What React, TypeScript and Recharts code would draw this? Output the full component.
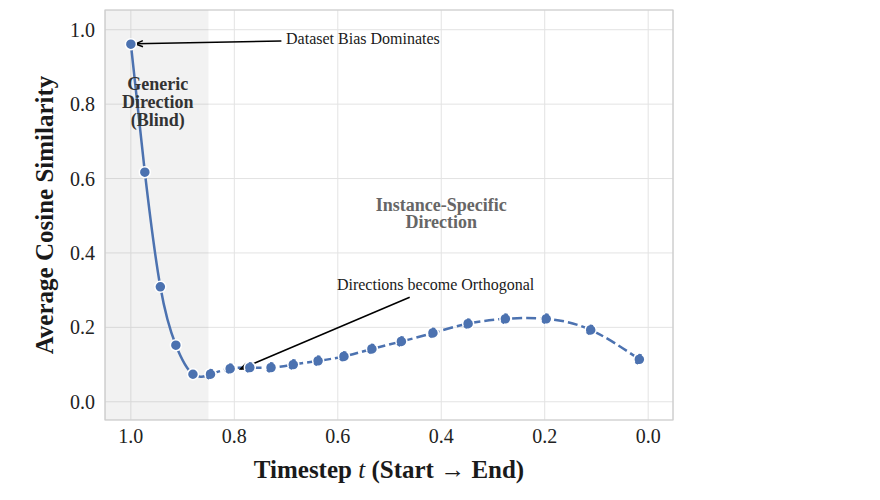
import {
  LineChart,
  Line,
  XAxis,
  YAxis,
  CartesianGrid,
  ReferenceArea,
  ReferenceLine,
  ReferenceDot,
} from 'recharts'

// Sampled timesteps (t runs 1 -> 0) and the averaged cosine similarity at each
const timesteps = [
  1.0, 0.973, 0.943, 0.913, 0.88, 0.846, 0.808, 0.77, 0.729, 0.686, 0.638, 0.588, 0.534, 0.477,
  0.416, 0.348, 0.276, 0.197, 0.111, 0.017,
]
const similarity = [
  0.961, 0.617, 0.309, 0.152, 0.074, 0.074, 0.089, 0.092, 0.092, 0.1, 0.11, 0.122, 0.142, 0.162,
  0.185, 0.21, 0.223, 0.223, 0.193, 0.114,
]

// t below this value is the instance-specific regime
const blindCutoff = 0.85

const xTicks = [1.0, 0.8, 0.6, 0.4, 0.2, 0.0]
const yTicks = [0.0, 0.2, 0.4, 0.6, 0.8, 1.0]
const xDomain: [number, number] = [-0.048, 1.05]
const yDomain: [number, number] = [-0.049, 1.053]

const BLUE = '#4c72b0'
const FONT = '"Liberation Serif", "Times New Roman", serif'

// Solid curve inside the blind region, dashed after it; both share the point at the boundary
const splitIndex = timesteps.findIndex((t) => t < blindCutoff)
const data = timesteps.map((t, i) => ({
  t,
  blind: i <= splitIndex ? similarity[i] : null,
  specific: i >= splitIndex ? similarity[i] : null,
}))

function Arrow(props: any) {
  const { x1, y1, x2, y2 } = props
  const ang = Math.atan2(y2 - y1, x2 - x1)
  const len = 8
  const spread = 0.4
  const ax = x2 - len * Math.cos(ang - spread)
  const ay = y2 - len * Math.sin(ang - spread)
  const bx = x2 - len * Math.cos(ang + spread)
  const by = y2 - len * Math.sin(ang + spread)
  return (
    <g>
      <line x1={x1} y1={y1} x2={x2} y2={y2} stroke="#000" strokeWidth={1.5} />
      <polyline
        points={`${ax},${ay} ${x2},${y2} ${bx},${by}`}
        fill="none"
        stroke="#000"
        strokeWidth={1.5}
      />
    </g>
  )
}

function textBlock(lines: string[], opts: { size: number; weight: string; color: string; anchor: string; lineGap: number }) {
  return (props: any) => {
    const { cx, cy } = props
    const top = cy - ((lines.length - 1) * opts.lineGap) / 2
    return (
      <text
        x={cx}
        y={top}
        textAnchor={opts.anchor as any}
        dominantBaseline="central"
        fontFamily={FONT}
        fontSize={opts.size}
        fontWeight={opts.weight}
        fill={opts.color}
      >
        {lines.map((ln, i) => (
          <tspan key={ln} x={cx} y={top + i * opts.lineGap}>
            {ln}
          </tspan>
        ))}
      </text>
    )
  }
}

const dotStyle = { r: 5.5, fill: BLUE, stroke: '#fff', strokeWidth: 1.5 }

export default function App() {
  return (
    <div style={{ position: 'absolute', left: 0, top: 0, width: 880, height: 500, background: '#fff' }}>
      <LineChart width={880} height={500} data={data} margin={{ top: 10, right: 207, bottom: 0, left: 0 }}>
        <CartesianGrid stroke="#e3e3e3" strokeWidth={1} />

        <ReferenceArea
          x1={xDomain[1]}
          x2={blindCutoff}
          y1={yDomain[0]}
          y2={yDomain[1]}
          fill="#808080"
          fillOpacity={0.1}
          stroke="none"
          ifOverflow="hidden"
        />
        <ReferenceArea
          x1={xDomain[1]}
          x2={xDomain[0]}
          y1={yDomain[0]}
          y2={yDomain[1]}
          fill="none"
          stroke="#cccccc"
          strokeWidth={1.2}
          ifOverflow="visible"
        />

        <XAxis
          type="number"
          dataKey="t"
          domain={xDomain}
          reversed
          ticks={xTicks}
          allowDataOverflow
          height={80}
          tickSize={0}
          tickMargin={9}
          axisLine={false}
          tickFormatter={(v: number) => v.toFixed(1)}
          tick={{ fontSize: 20, fill: '#222222', fontFamily: FONT }}
          label={{
            content: (p: any) => {
              const vb = p.viewBox
              return (
                <text
                  x={vb.x + vb.width / 2}
                  y={478}
                  textAnchor="middle"
                  fontFamily={FONT}
                  fontSize={25}
                  fontWeight="bold"
                  fill="#1a1a1a"
                >
                  Timestep <tspan fontStyle="italic" fontWeight="normal">t</tspan> (Start {'\u2192'} End)
                </text>
              )
            },
          }}
        />
        <YAxis
          type="number"
          domain={yDomain}
          ticks={yTicks}
          allowDataOverflow
          width={105}
          tickSize={0}
          tickMargin={10}
          axisLine={false}
          tickFormatter={(v: number) => v.toFixed(1)}
          tick={{ fontSize: 20, fill: '#222222', fontFamily: FONT }}
          label={{
            content: (p: any) => {
              const vb = p.viewBox
              const cy = vb.y + vb.height / 2
              return (
                <text
                  x={53}
                  y={cy}
                  transform={`rotate(-90, 53, ${cy})`}
                  textAnchor="middle"
                  fontFamily={FONT}
                  fontSize={25}
                  fontWeight="bold"
                  fill="#1a1a1a"
                >
                  Average Cosine Similarity
                </text>
              )
            },
          }}
        />

        <Line
          dataKey="blind"
          type="natural"
          stroke={BLUE}
          strokeWidth={2.5}
          dot={dotStyle}
          activeDot={false}
          isAnimationActive={false}
        />
        <Line
          dataKey="specific"
          type="natural"
          stroke={BLUE}
          strokeWidth={2.5}
          strokeDasharray="10 4"
          dot={dotStyle}
          activeDot={false}
          isAnimationActive={false}
        />

        <ReferenceLine segment={[{ x: 0.709, y: 0.97 }, { x: 0.991, y: 0.962 }]} shape={Arrow} ifOverflow="visible" />
        <ReferenceLine segment={[{ x: 0.461, y: 0.281 }, { x: 0.788, y: 0.088 }]} shape={Arrow} ifOverflow="visible" />

        <ReferenceDot
          x={0.7}
          y={0.978}
          ifOverflow="visible"
          shape={textBlock(['Dataset Bias Dominates'], { size: 16, weight: 'normal', color: '#1a1a1a', anchor: 'start', lineGap: 0 })}
        />
        <ReferenceDot
          x={0.411}
          y={0.316}
          ifOverflow="visible"
          shape={textBlock(['Directions become Orthogonal'], { size: 16, weight: 'normal', color: '#1a1a1a', anchor: 'middle', lineGap: 0 })}
        />
        <ReferenceDot
          x={0.948}
          y={0.806}
          ifOverflow="visible"
          shape={textBlock(['Generic', 'Direction', '(Blind)'], { size: 18, weight: 'bold', color: '#333333', anchor: 'middle', lineGap: 18 })}
        />
        <ReferenceDot
          x={0.4}
          y={0.506}
          ifOverflow="visible"
          shape={textBlock(['Instance-Specific', 'Direction'], { size: 18, weight: 'bold', color: '#666666', anchor: 'middle', lineGap: 17 })}
        />
      </LineChart>
    </div>
  )
}
